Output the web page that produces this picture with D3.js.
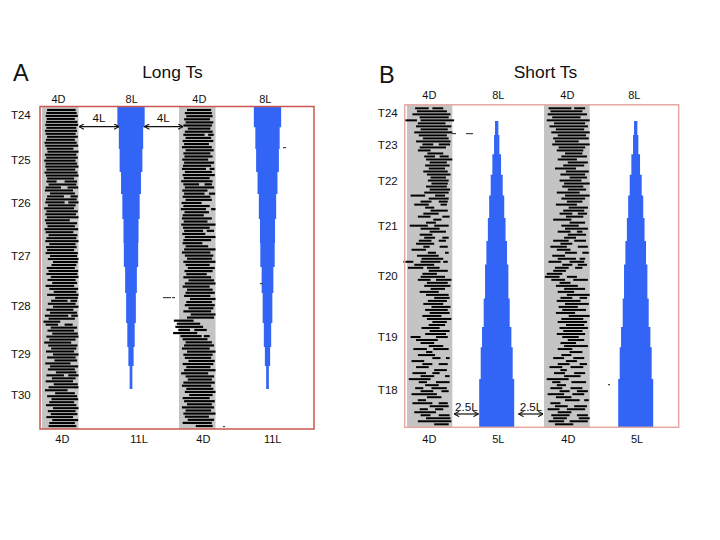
<!DOCTYPE html>
<html><head><meta charset="utf-8"><script src="https://cdn.jsdelivr.net/npm/d3@7"></script>
<style>html,body{margin:0;background:#fff}text{font-family:"Liberation Sans",Arial,sans-serif;fill:#111}</style></head>
<body><svg id="c" width="720" height="540"></svg>
<script>
const longEdges=[0,6.4,13.2,20.3,27.1,34.9,42.3,49.8,57.8,67.1,74.6,80.5,87.6];
const longWidths=[78,69.5,65,57,49.5,43,41,33.5,27.7,21,15,7.7];
const shortEdges=[5,9.4,15.3,21.7,28.1,35.1,42.2,49.5,60.1,68.9,75.2,85,100];
const shortWidths=[9.5,15.2,24.8,34.3,43,50.5,59,66.7,74.3,83.8,91.4,100];
const longTicks=[2.6,16.4,29.9,46.4,61.9,76.8,89.5];
const longTickLabels=["T24","T25","T26","T27","T28","T29","T30"];
const shortTicks=[2.4,12.4,23.6,37.6,52.9,72,88.4];
const shortTickLabels=["T24","T23","T22","T21","T20","T19","T18"];
const longTop=["4D","8L","4D","8L"], longBottom=["4D","11L","4D","11L"];
const shortTop=["4D","8L","4D","8L"], shortBottom=["4D","5L","4D","5L"];
// Dash rows of each 4D band, top to bottom: start,end pairs in % of band width
const longBand1=[[14,92],[12,95],[10,98],[13,90],[11,97],[9,99],[12,94],[8,96],[10,92],[14,98],[11,90],[7,95],
[9,99],[13,86],[15,100],[8,94],[11,98],[6,92],[10,96],[9,100],[12,91],[7,97],[11,100],[14,88],
[12,40,62,96],[18,94],[10,52,70,99],[8,85],[22,90],[14,60,78,98],[11,95],[9,62,72,100],[16,92],[6,88],[12,98],[9,93],
[13,100],[8,76],[11,96],[15,90],[7,99],[10,86],[18,97],[12,94],[9,100],[20,92],[11,95],[14,88],
[10,98],[22,96],[16,100],[30,98],[26,94],[13,90],[18,99],[12,97],[24,100],[15,92],[28,96],[10,88],
[20,99],[32,94],[14,100],[36,98],[25,70,78,96],[16,92],[30,100],[12,86],[22,96],[8,72,80,98],
[18,90],[4,50],[10,44,62,84],[24,96],[15,88],[28,98],[12,100],[20,92],[6,80],[17,97],
[25,94],[11,88],[30,100],[14,92],[34,96],[9,78],[22,99],[16,90],[38,94],[12,60,72,100],
[27,92],[10,85],[32,98],[18,100],[8,70],[36,90],[14,96],[26,99],[20,88],[11,94],
[30,100],[16,92],[24,97],[12,85],[28,99],[20,90],[18,94]];
const longBand2=[[22,88],[16,90],[20,92],[14,85],[18,94],[12,90],[24,86],[16,92],[12,70,80,95],[18,88],[10,94],[14,82],
[8,90],[18,95],[12,86],[15,92],[9,80],[14,96],[11,88],[8,74,84,97],[16,90],[10,98],[13,84],[6,92],
[12,55,70,90],[16,96],[9,78],[14,70,82,99],[10,86],[18,90],[7,62],[12,84],[5,74,88,100],[15,82],[10,68],[8,90],
[13,78],[6,100],[11,84],[14,66,76,96],[9,72],[16,100],[12,88],[10,64],[18,80],[14,100],[8,86],[16,94],
[22,90],[12,100],[18,84],[24,98],[15,92],[20,76],[12,88],[26,96],[16,100],[10,84],[22,92],[18,98],
[14,86],[30,100],[20,90],[16,98],[26,94],[12,88],[32,100],[22,96],[-14,40],[-6,58],[-10,66],[-2,30,42,76],
[-16,50],[4,62,68,84],[10,78],[18,90],[14,96],[8,84],[22,100],[12,92],[16,88],[26,98],[10,94],[20,86],
[14,100],[6,80],[18,96],[24,90],[12,98],[8,88],[20,94],[16,100],[28,92],[10,84],[14,98],[22,90],
[8,96],[18,88],[12,100],[16,82],[24,96],[10,90],[46,92]];
const shortBand1=[[18,48,56,80],[22,88],[12,96],[28,92],[-4,22,30,104],[24,85],[20,98],[30,90],[16,100],[26,88],[35,92],[20,96],[34,58,70,95],[28,86],[24,52],
[45,80],[38,62,72,92],[42,100],[50,88],[40,94],[48,84],[36,90],[44,96],[52,86],[46,92],[54,90],[42,88],[50,95],[38,92],
[8,40,62,84],[48,92],[30,54,70,90],[16,48,74,88],[40,60],[52,90],[36,70],[24,52,78,94],[58,76],[42,64],[6,46,60,92],[30,72],[50,86],[28,56],[38,62,78,92],
[26,54,70,86],[20,60],[36,50,72,90],[10,42],[46,64,84,92],[22,70],[32,80],[-8,14,30,74,80,90],[16,60],[2,36,44,72],[48,90],[34,66],
[30,84],[24,52,64,98],[44,90],[38,96],[52,84],[28,70],[42,92],[60,94],[46,88],[36,80],[54,96],[40,90],[50,94],[34,76],[44,98],[56,88],[48,84],[32,72],[50,94],[40,86],
[8,30,64,90],[20,68],[30,60],[48,80],[14,44,58,92],[42,56],[24,62],[56,74,86,94],[10,38],[34,56,70,90],[20,48],[60,88],[12,42,56,72],[30,60,84,94],
[4,52],[26,44,64,94],[40,70],[18,36,54,88],[30,58,76,92],[10,66],[44,76],[24,42],[12,56,70,90],[50,92],[28,46,62,80],[16,64],[30,52,70,94],[42,96],[24,98],[60,92]];
const shortBand2=[[10,60,66,90],[14,84],[8,94],[18,80],[6,100],[22,90],[12,96],[26,88],[16,100],[30,92],[20,98],[24,76],[18,100],[32,90],[28,86],
[46,84],[38,94],[30,72],[52,96],[42,88],[24,70],[48,98],[36,90],[56,94],[34,82],[44,100],[40,86],[52,92],[28,78],
[46,100],[38,90],[50,84],[26,72],[54,96],[42,88],[34,62,74,94],[48,86],[20,60],[56,90],[38,76],[46,96],[30,58,72,84],[52,92],[44,70],
[20,54,66,92],[36,62],[14,50,74,96],[28,58],[46,72,84,98],[18,46],[30,70,78,90],[10,38,56,88],[40,62,74,94],[24,54,68,84],[20,48],
[6,40],[2,34,50,72],[16,46,64,96],[34,58],[26,74],[44,90],[30,66],[50,100],[36,62,78,94],[28,80],[46,98],[32,74],[40,92],[26,68],[54,100],[38,86],[30,94],[48,88],[34,96],[42,84],[28,90],
[40,76],[52,88],[36,70],[44,96],[30,62],[56,84],[38,60],[20,44,64,88],[48,72],[30,56,78,94],[12,40,58,86],[36,50],[22,46,66,90],[44,80],
[6,54],[18,36,60,92],[28,48],[14,40,58,84],[34,56,72,96],[8,44,62,88],[26,60],[46,78,88,98],[14,36],[24,52,66,94],[8,34,50,90],[30,60],[16,56,72,96],[20,50,76,100],[10,44,56,96],[24,64]];
const specks=[[163,297,8],[172,297,3],[283,147,3],[223,426,2],[260,283,3],[452,133,4],[466,133,7],[608,384,2]];
const arrowsA=[{a:79,b:119,y:126.7,label:"4L",lx:99,ly:122.3},{a:144.5,b:183,y:126.7,label:"4L",lx:163.3,ly:122.3}];
const arrowsB=[{a:454.3,b:478.3,y:414,label:"2.5L",lx:466.3,ly:411},{a:518.7,b:543,y:414,label:"2.5L",lx:531,ly:411}];

const svg=d3.select('#c');
const widthScale=d3.scaleLinear().domain([0,100]).range([0,35]);
const defs=svg.append('defs');
defs.append('filter').attr('id','soft').attr('x','-5%').attr('y','-1%').attr('width','110%').attr('height','102%')
 .append('feGaussianBlur').attr('stdDeviation','0.4 0.3');
defs.append('marker').attr('id','ah').attr('viewBox','0 0 8 8').attr('refX',7.5).attr('refY',4)
 .attr('markerWidth',6).attr('markerHeight',6).attr('orient','auto-start-reverse').attr('markerUnits','userSpaceOnUse')
 .append('path').attr('d','M1,0.5L7.5,4L1,7.5').attr('fill','none').attr('stroke','#111').attr('stroke-width',1.5);

function panel(o){
 const y=d3.scaleLinear().domain([0,100]).range([o.y0,o.y1]);
 o.bands.forEach(b=>{
  svg.append('rect').attr('x',b.r[0]).attr('y',o.y0).attr('width',b.r[1]-b.r[0]).attr('height',o.y1-o.y0).attr('fill','#c4c4c4');
  const x=d3.scaleLinear().domain([0,100]).range(b.r);
  const ry=d3.scaleBand().domain(d3.range(b.rows.length)).range([o.y0+1.5,o.y1-1]).padding(o.rowPad);
  const segs=b.rows.flatMap((r,i)=>d3.range(0,r.length,2).map(k=>({i,s:r[k],e:r[k+1]})));
  svg.append('g').attr('filter','url(#soft)').selectAll('rect').data(segs).join('rect')
   .attr('x',d=>x(d.s)).attr('width',d=>x(d.e)-x(d.s)).attr('y',d=>ry(d.i)).attr('height',ry.bandwidth()).attr('fill','#000');
 });
 const tower=d3.line();
 o.centers.forEach(c=>{
  const right=o.widths.flatMap((w,i)=>[[c+widthScale(w)/2,y(o.edges[i])],[c+widthScale(w)/2,y(o.edges[i+1])]]);
  const left=o.widths.flatMap((w,i)=>[[c-widthScale(w)/2,y(o.edges[i])],[c-widthScale(w)/2,y(o.edges[i+1])]]).reverse();
  svg.append('path').attr('d',tower(right.concat(left))+'Z').attr('fill','#3264f5');
 });
 svg.append('rect').attr('x',o.x0).attr('y',o.y0).attr('width',o.x1-o.x0).attr('height',o.y1-o.y0).attr('fill','none').attr('stroke',o.stroke).attr('stroke-width',1.5);
 const axis=d3.axisLeft(y).tickValues(o.ticks).tickFormat((d,i)=>o.tickLabels[i]).tickSize(0).tickPadding(o.tickPad);
 const g=svg.append('g').attr('transform',`translate(${o.x0},0)`).call(axis);
 g.select('.domain').remove();
 g.selectAll('text').attr('font-size',11.5).attr('font-family','"Liberation Sans",Arial,sans-serif');
 svg.append('g').selectAll('text').data(o.top).join('text').text(d=>d).attr('x',(d,i)=>o.topX[i]).attr('y',o.topY).attr('text-anchor','middle').attr('font-size',11);
 svg.append('g').selectAll('text').data(o.bottom).join('text').text(d=>d).attr('x',(d,i)=>o.botX[i]).attr('y',442.7).attr('text-anchor','middle').attr('font-size',11);
 o.arrows.forEach(a=>{
  svg.append('line').attr('x1',a.a).attr('x2',a.b).attr('y1',a.y).attr('y2',a.y).attr('stroke','#111').attr('stroke-width',1.2)
   .attr('marker-start','url(#ah)').attr('marker-end','url(#ah)');
  svg.append('text').text(a.label).attr('x',a.lx).attr('y',a.ly).attr('text-anchor','middle').attr('font-size',11.7);
 });
 svg.append('text').text(o.letter).attr('x',o.letterX).attr('y',o.letterY).attr('font-size',23.5);
 svg.append('text').text(o.title).attr('x',o.titleX).attr('y',78).attr('text-anchor','middle').attr('font-size',17.4);
}
panel({x0:40,x1:314,y0:106.5,y1:429,stroke:'#c9574f',edges:longEdges,widths:longWidths,centers:[131,267.5],
 bands:[{r:[42,78.5],rows:longBand1},{r:[179,215.5],rows:longBand2}],rowPad:.3,
 ticks:longTicks,tickLabels:longTickLabels,tickPad:9.3,top:longTop,topX:[58.5,131.7,199.3,265.3],topY:102.7,
 bottom:longBottom,botX:[62.3,139,203.3,272.7],arrows:arrowsA,letter:"A",letterX:13,letterY:80.6,title:"Long Ts",titleX:172.5});
panel({x0:404.7,x1:678.7,y0:104.8,y1:427.3,stroke:'#e5a8a4',edges:shortEdges,widths:shortWidths,centers:[496.7,635.7],
 bands:[{r:[407,452.3],rows:shortBand1},{r:[544,589.7],rows:shortBand2}],rowPad:.34,
 ticks:shortTicks,tickLabels:shortTickLabels,tickPad:7,top:shortTop,topX:[429.3,498.3,567.3,634.3],topY:99,
 bottom:shortBottom,botX:[429.3,498.3,568.3,637],arrows:arrowsB,letter:"B",letterX:379,letterY:83,title:"Short Ts",titleX:545.5});
svg.append('g').selectAll('rect').data(specks).join('rect').attr('x',d=>d[0]).attr('y',d=>d[1]).attr('width',d=>d[2]).attr('height',1.2).attr('fill','#444');
</script></body></html>
